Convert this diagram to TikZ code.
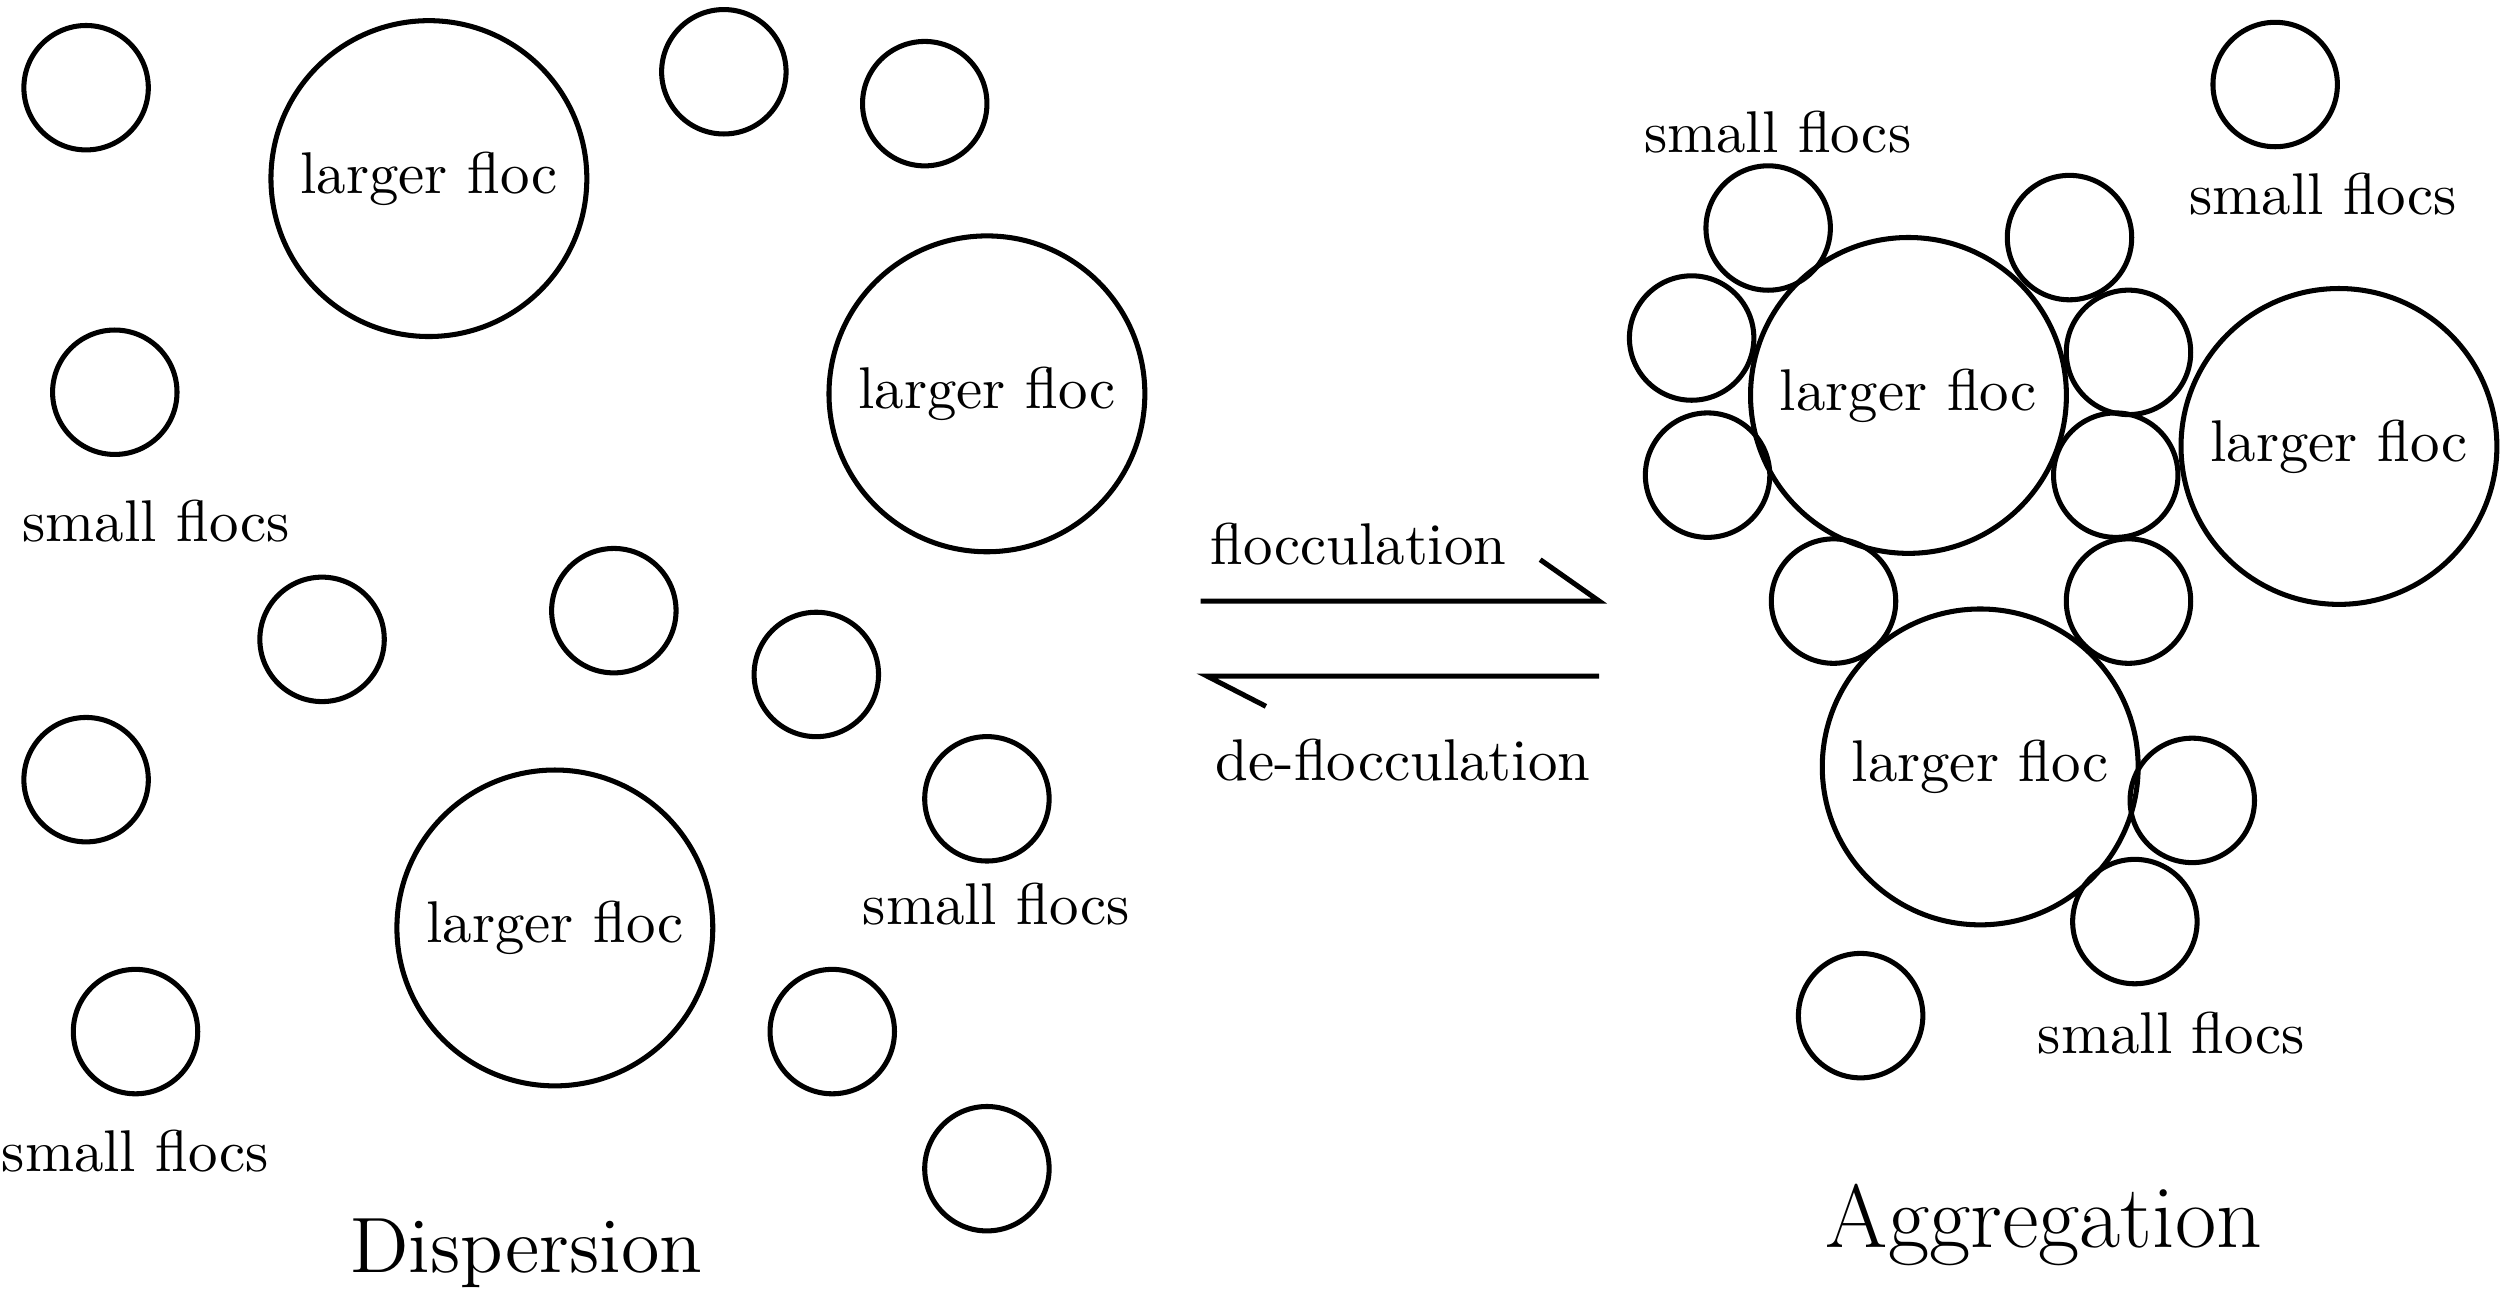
\documentclass[tikz,border=0pt]{standalone}
\usetikzlibrary{positioning}
\tikzset{
small/.style={draw,circle,line width=0.9pt,minimum size=0.78cm,inner sep=0pt},
large/.style={draw,circle,line width=0.9pt,minimum size=1.98cm,inner sep=0pt},
label/.style={font={\fontsize{10.5pt}{12}\selectfont}},
line/.style={line width=0.9pt}
}
\begin{document}
\begin{tikzpicture}[x=0.01cm,y=-0.01cm]
  \useasboundingbox (0,0) rectangle (1568,814);
  % dispersion side
  \foreach \x/\y [count=\i] in {54/55,454/45,580/65,72/246,202/401,385/383,512/423,54/489,619/501,85/647,522/647,619/733}
    \node[small] (ds\i) at (\x,\y) {};
  \node[large,label] (dl1) at (269,112) {larger floc};
  \node[large,label] (dl2) at (619,247) {larger floc};
  \node[large,label] (dl3) at (348,582) {larger floc};
  \node[label] (dt1) at (98,327) {small flocs};
  \node[label] (dt2) at (625,567) {small flocs};
  \node[label] (dt3) at (85,722) {small flocs};
  \node[font={\fontsize{14pt}{16}\selectfont}] (disp) at (330,786) {Dispersion};
  % aggregation side
  \foreach \x/\y [count=\i] in {1109/143,1298/149,1427/53,1061/212,1335/221,1071/298,1327/298,1150/377,1335/377,1375/502,1339/578,1167/637}
    \node[small] (as\i) at (\x,\y) {};
  \node[large,label] (al1) at (1197,248) {larger floc};
  \node[large,label] (al2) at (1467,280) {larger floc};
  \node[large,label] (al3) at (1242,481) {larger floc};
  \node[label] (at1) at (1115,83) {small flocs};
  \node[label] (at2) at (1457,122) {small flocs};
  \node[label] (at3) at (1362,648) {small flocs};
  \node[font={\fontsize{16pt}{18}\selectfont}] (aggr) at (1282,768) {Aggregation};
  % equilibrium arrows
  \coordinate (f1) at (753,377);
  \coordinate (f2) at (1003,377);
  \coordinate (f3) at (966,351);
  \coordinate (b1) at (1003,424);
  \coordinate (b2) at (757,424);
  \coordinate (b3) at (794,443);
  \draw[line] (f1) -- (f2) -- (f3);
  \draw[line] (b1) -- (b2) -- (b3);
  \node[label] (floc) at (852,341) {flocculation};
  \node[label] (defloc) at (880,477) {de-flocculation};
\end{tikzpicture}
\end{document}
